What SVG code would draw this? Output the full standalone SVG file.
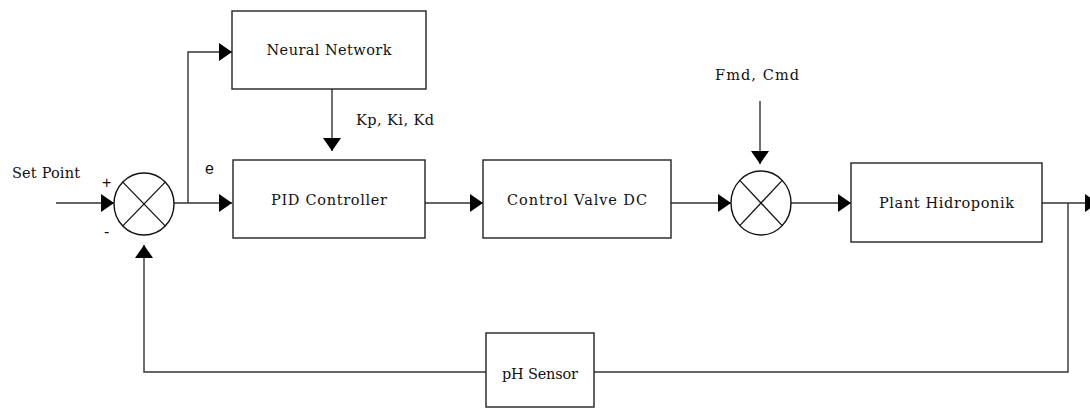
<svg xmlns="http://www.w3.org/2000/svg" width="1090" height="408" viewBox="0 0 1090 408">
<style>
.box{fill:#fff;stroke:#222;stroke-width:1.4}
.sum{fill:#fff;stroke:#111;stroke-width:1.4}
.x{stroke:#111;stroke-width:1.3}
.ln{fill:none;stroke:#333;stroke-width:1.4}
.t{font-family:"DejaVu Serif",serif;font-size:14.5px;fill:#111}
.s{font-family:"Liberation Sans",Arial,sans-serif;font-size:16px;fill:#111}
</style>
<defs>
<marker id="ah" viewBox="0 0 13 18" refX="13" refY="9" markerWidth="13" markerHeight="18" markerUnits="userSpaceOnUse" orient="auto">
<path d="M0,0 L13,9 L0,18 Z" fill="#000"/>
</marker>
</defs>
<rect width="1090" height="408" fill="#fff"/>
<g id="connectors">
<path class="ln" d="M56,203 H114" marker-end="url(#ah)"/>
<path class="ln" d="M174,203 H232" marker-end="url(#ah)"/>
<path class="ln" d="M188,203 V52 H232" marker-end="url(#ah)"/>
<path class="ln" d="M332,89 V151" marker-end="url(#ah)"/>
<path class="ln" d="M425,203 H483" marker-end="url(#ah)"/>
<path class="ln" d="M671,203 H731" marker-end="url(#ah)"/>
<path class="ln" d="M760,101 V164" marker-end="url(#ah)"/>
<path class="ln" d="M791,203 H851" marker-end="url(#ah)"/>
<path class="ln" d="M1042,203 H1098" marker-end="url(#ah)"/>
<path class="ln" d="M1068,203 V372 H594"/>
<path class="ln" d="M486,372 H144 V245" marker-end="url(#ah)"/>
</g>
<g id="sum1">
<ellipse class="sum" cx="144" cy="204" rx="30" ry="31"/>
<line class="x" x1="122.8" y1="182.1" x2="165.2" y2="225.9"/>
<line class="x" x1="165.2" y1="182.1" x2="122.8" y2="225.9"/>
<text class="s" x="102" y="188">+</text>
<text class="s" x="104" y="237">-</text>
</g>
<g id="sum2">
<ellipse class="sum" cx="761" cy="203" rx="30" ry="32"/>
<line class="x" x1="739.8" y1="180.4" x2="782.2" y2="225.6"/>
<line class="x" x1="782.2" y1="180.4" x2="739.8" y2="225.6"/>
</g>
<g id="neural-network">
<rect class="box" x="232" y="11" width="194" height="78"/>
<text class="t" x="329" y="55" text-anchor="middle" textLength="125">Neural Network</text>
</g>
<g id="pid">
<rect class="box" x="233" y="160" width="192" height="78"/>
<text class="t" x="329" y="205" text-anchor="middle" textLength="116">PID Controller</text>
</g>
<g id="valve">
<rect class="box" x="483" y="160" width="188" height="78"/>
<text class="t" x="577" y="205" text-anchor="middle" textLength="140">Control Valve DC</text>
</g>
<g id="plant">
<rect class="box" x="851" y="163" width="191" height="79"/>
<text class="t" x="946.5" y="208" text-anchor="middle" textLength="135">Plant Hidroponik</text>
</g>
<g id="sensor">
<rect class="box" x="486" y="333" width="108" height="74"/>
<text class="t" x="540" y="379" text-anchor="middle" textLength="76">pH Sensor</text>
</g>
<g id="labels">
<text class="t" x="12" y="178" textLength="68">Set Point</text>
<text class="t" x="356" y="125" textLength="78">Kp, Ki, Kd</text>
<text class="t" x="715" y="80" textLength="84">Fmd, Cmd</text>
<text class="s" x="205" y="174" font-size="14">e</text>
</g>
</svg>
